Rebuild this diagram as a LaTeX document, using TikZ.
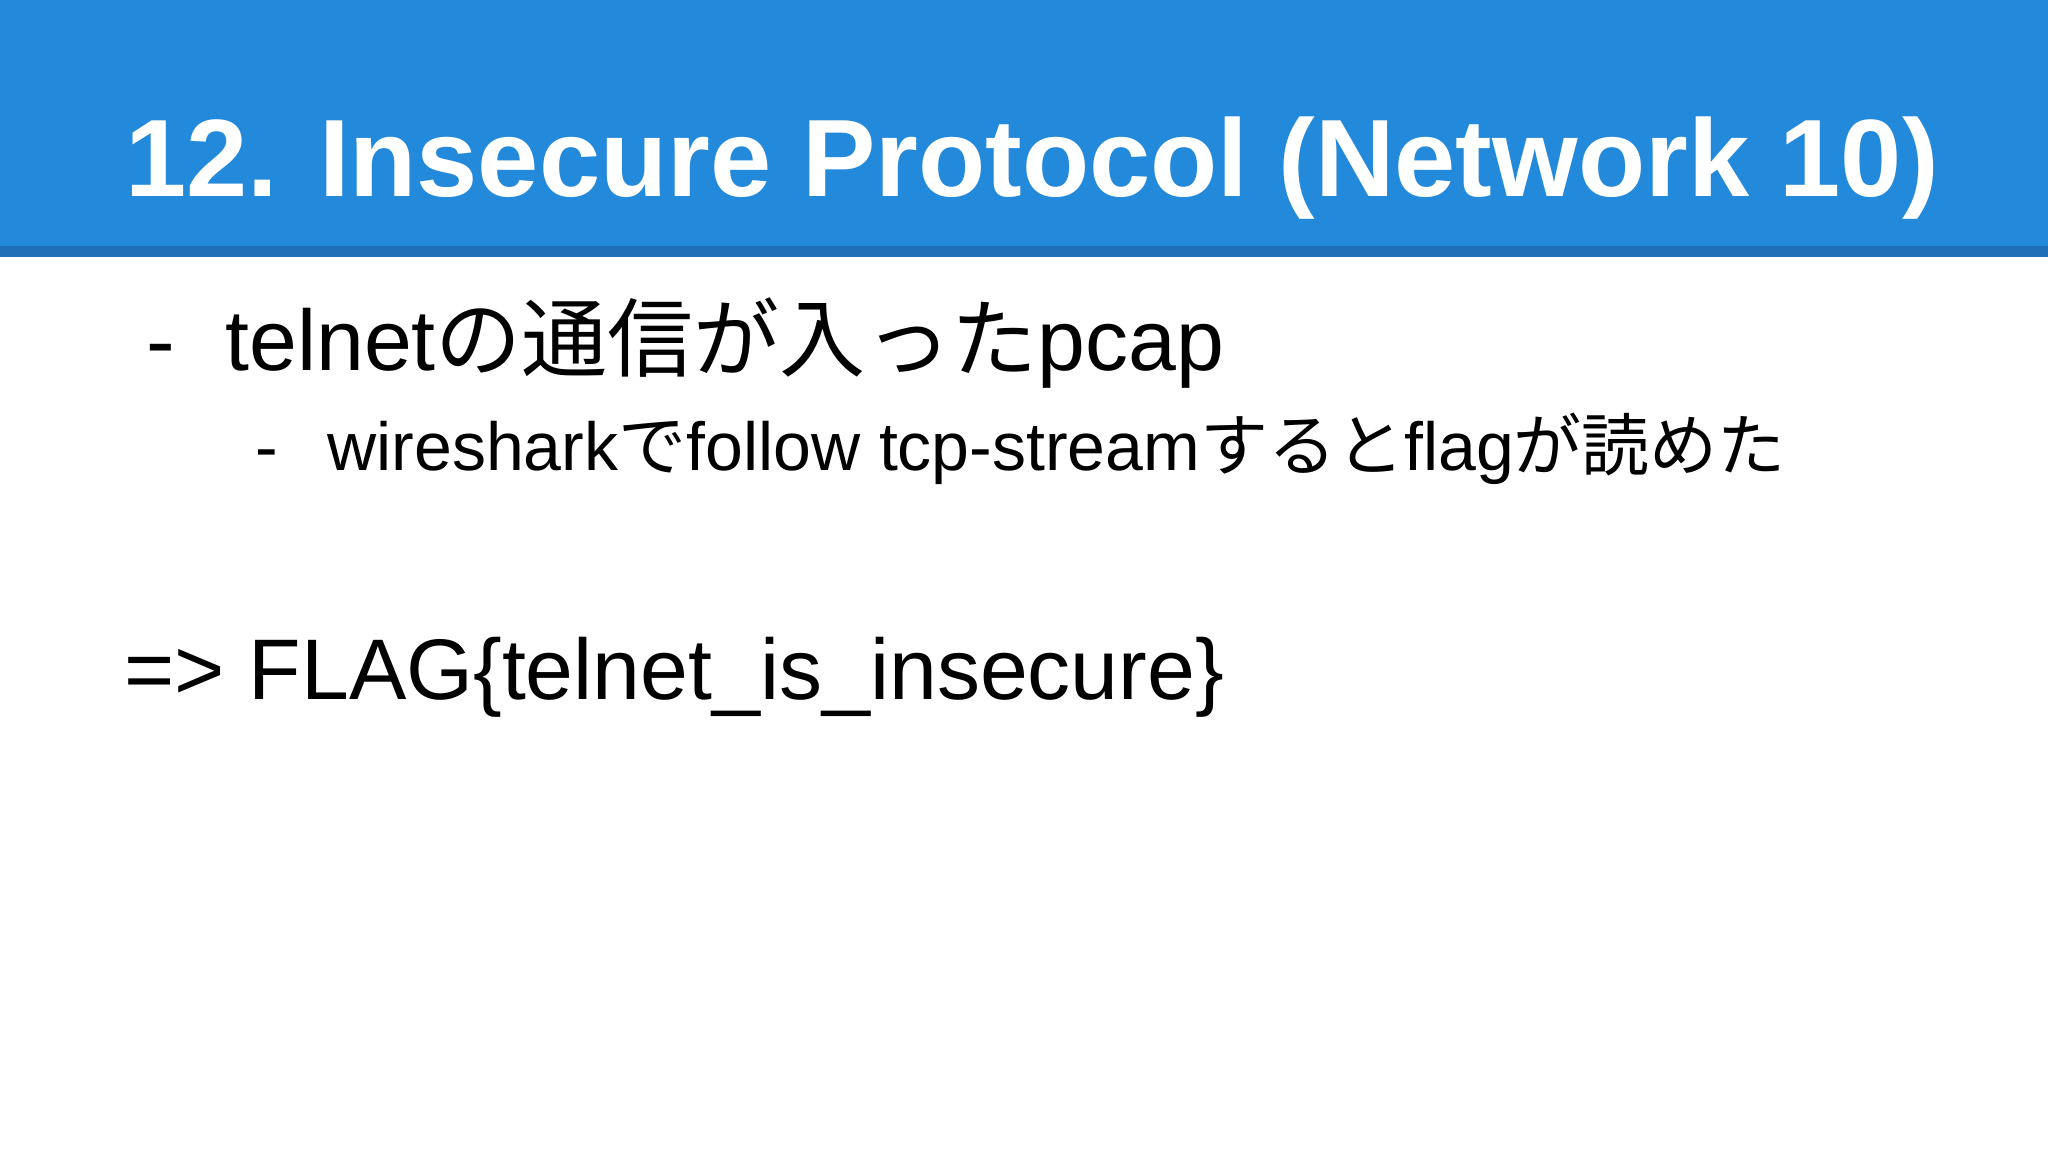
\documentclass[tikz,border=0pt]{standalone}
\usepackage{fontspec}
\setmainfont{Liberation Sans}
\newfontfamily\jp{Noto Sans CJK JP}
\definecolor{hdr}{HTML}{2389DB}
\definecolor{hdrdark}{HTML}{1F6FB8}
\begin{document}
\begin{tikzpicture}[x=0.5pt,y=-0.5pt,
  txt/.style={anchor=base west,inner sep=0pt,text=black}]
\useasboundingbox (0,0) rectangle (2048,1152);
\fill[white] (0,0) rectangle (2048,1152);
\fill[hdr] (0,0) rectangle (2048,246);
\fill[hdrdark] (0,246) rectangle (2048,257);
\node[txt,text=white,font=\bfseries\fontsize{55}{60}\selectfont] (title) at (125,196) {12. Insecure Protocol (Network 10)};
\node[txt,font=\fontsize{43}{48}\selectfont] (d1) at (146,370) {-};
\node[txt,font=\fontsize{43}{48}\selectfont] (l1) at (225,370) {telnet{\jp の通信が入った}pcap};
\node[txt,font=\fontsize{34}{40}\selectfont] (d2) at (255,470) {-};
\node[txt,font=\fontsize{34}{40}\selectfont] (l2) at (327,470) {wireshark{\jp で}follow tcp-stream{\jp すると}flag{\jp が読めた}};
\node[txt,font=\fontsize{43}{48}\selectfont] (flag) at (124,699) {=> FLAG\{telnet\_is\_insecure\}};
\end{tikzpicture}
\end{document}
